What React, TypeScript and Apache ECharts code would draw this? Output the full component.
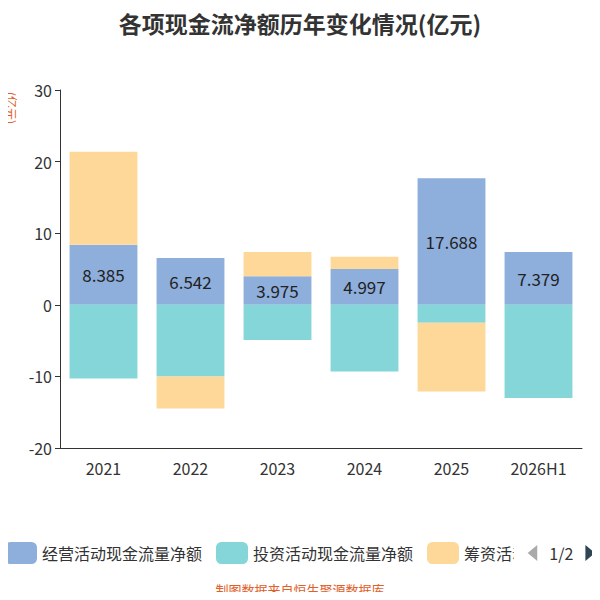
import { useEffect, useRef } from 'react';
import * as echarts from 'echarts';

const years = ['2021', '2022', '2023', '2024', '2025', '2026H1'];
const operating = [8.385, 6.542, 3.975, 4.997, 17.688, 7.379];
const investing = [-10.3, -10.0, -4.9, -9.3, -2.5, -13.0];
const financing = [13.0, -4.5, 3.4, 1.7, -9.6, 0];

const App = () => {
  const ref = useRef<HTMLDivElement>(null);

  useEffect(() => {
    if (!ref.current) return;
    const chart = echarts.init(ref.current, undefined, { renderer: 'svg' });
    const font = '"Noto Sans CJK SC", "Noto Sans", sans-serif';
    chart.setOption({
      animation: false,
      textStyle: { fontFamily: font },
      title: {
        text: '各项现金流净额历年变化情况(亿元)',
        left: 'center',
        top: 6,
        textStyle: { fontSize: 23, fontWeight: 'bold', color: '#333' }
      },
      graphic: [
        {
          type: 'text',
          left: 6,
          top: 92,
          rotation: -Math.PI / 2,
          style: { text: '(亿元)', fill: '#e0602a', fontSize: 12, fontFamily: font }
        },
        {
          type: 'text',
          left: 'center',
          top: 583,
          style: { text: '制图数据来自恒生聚源数据库', fill: '#e0602a', fontSize: 13, fontFamily: font }
        }
      ],
      legend: {
        type: 'scroll',
        top: 537,
        left: 0,
        right: 8,
        itemWidth: 32,
        itemHeight: 22,
        itemGap: 14,
        textStyle: { fontSize: 16, color: '#333' },
        pageTextStyle: { fontSize: 16, color: '#333' },
        pageIconSize: 16,
        pageIconColor: '#2f4554',
        pageIconInactiveColor: '#aaa'
      },
      grid: { left: 60, right: 18, top: 90, bottom: 152 },
      xAxis: {
        type: 'category',
        data: years,
        axisLine: { onZero: false, lineStyle: { color: '#333' } },
        axisTick: { show: false },
        axisLabel: { fontSize: 16, color: '#333', margin: 12 }
      },
      yAxis: {
        type: 'value',
        min: -20,
        max: 30,
        interval: 10,
        axisLine: { show: true, lineStyle: { color: '#333' } },
        axisTick: { show: true },
        splitLine: { show: false },
        axisLabel: { fontSize: 16, color: '#333' }
      },
      series: [
        {
          name: '经营活动现金流量净额',
          type: 'bar',
          stack: 'a',
          barWidth: '78%',
          data: operating,
          itemStyle: { color: '#8eaedc' },
          label: { show: true, position: 'inside', fontSize: 17, color: '#222' }
        },
        {
          name: '投资活动现金流量净额',
          type: 'bar',
          stack: 'a',
          data: investing,
          itemStyle: { color: '#84d6d8' }
        },
        {
          name: '筹资活动现金流量净额',
          type: 'bar',
          stack: 'a',
          data: financing,
          itemStyle: { color: '#fed898' }
        }
      ]
    });
    return () => chart.dispose();
  }, []);

  return <div ref={ref} style={{ width: 600, height: 600, margin: -8 }} />;
};

export default App;
